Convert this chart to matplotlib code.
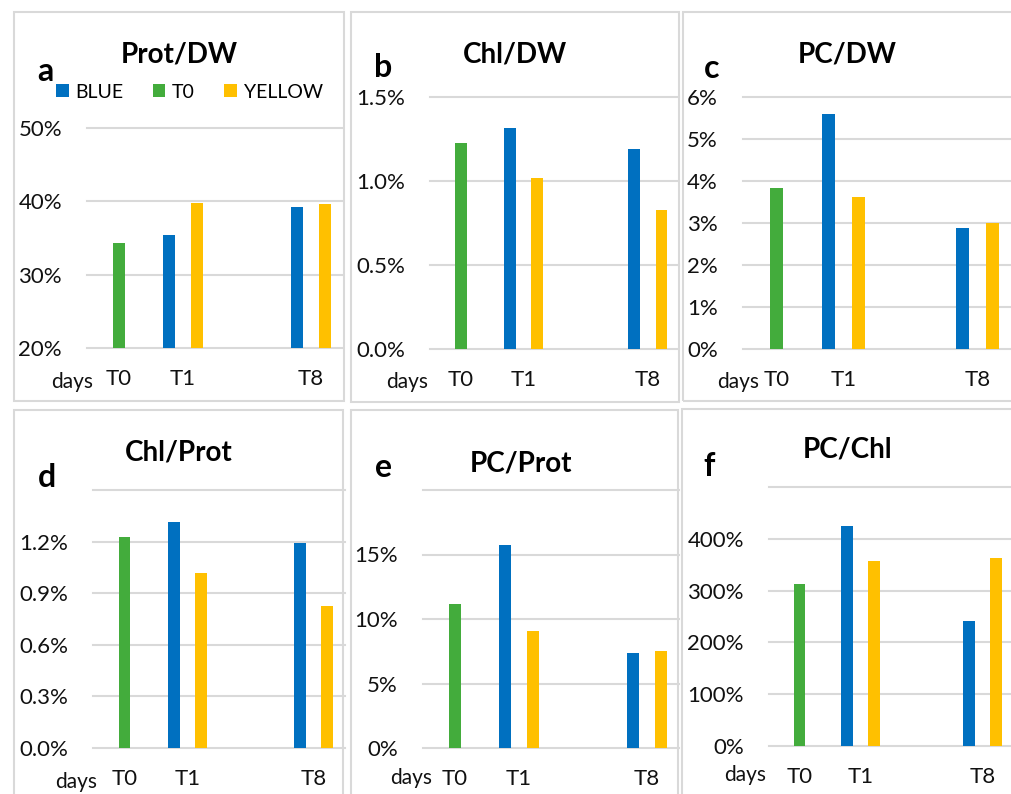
import matplotlib
matplotlib.use("Agg")
import matplotlib.pyplot as plt
import numpy as np
from matplotlib.patches import Rectangle

plt.rcParams['font.family'] = ['Lato', 'DejaVu Sans']

W, H = 1011, 794

# data (percent)
cats = ["T0", "T1", "T8"]
cat_pos = [0, 1, 3]
series = ["BLUE", "T0", "YELLOW"]
colors = ["#0070C0", "#43AC3C", "#FFC000"]

titles = ["Prot/DW", "Chl/DW", "PC/DW", "Chl/Prot", "PC/Prot", "PC/Chl"]
letters = ["a", "b", "c", "d", "e", "f"]

blue = [
    [np.nan, 35.4, 39.2],
    [np.nan, 1.313, 1.19],
    [np.nan, 5.59, 2.89],
    [np.nan, 1.312, 1.19],
    [np.nan, 15.72, 7.35],
    [np.nan, 424, 242],
]
t0 = [
    [34.3, np.nan, np.nan],
    [1.224, np.nan, np.nan],
    [3.83, np.nan, np.nan],
    [1.227, np.nan, np.nan],
    [11.16, np.nan, np.nan],
    [312, np.nan, np.nan],
]
yellow = [
    [np.nan, 39.8, 39.7],
    [np.nan, 1.016, 0.827],
    [np.nan, 3.63, 2.99],
    [np.nan, 1.016, 0.826],
    [np.nan, 9.1, 7.53],
    [np.nan, 357, 362],
]

yticks = [
    [20, 30, 40, 50],
    [0, 0.5, 1.0, 1.5],
    [0, 1, 2, 3, 4, 5, 6],
    [0, 0.3, 0.6, 0.9, 1.2, 1.5],
    [0, 5, 10, 15, 20],
    [0, 100, 200, 300, 400, 500],
]
ylabels = [
    ["20%", "30%", "40%", "50%"],
    ["0.0%", "0.5%", "1.0%", "1.5%"],
    ["0%", "1%", "2%", "3%", "4%", "5%", "6%"],
    ["0.0%", "0.3%", "0.6%", "0.9%", "1.2%", ""],
    ["0%", "5%", "10%", "15%", ""],
    ["0%", "100%", "200%", "300%", "400%", ""],
]

# layout in pixels: (left, right, top, bottom) of plot area
areas = [
    (87, 343, 128, 348),
    (430, 679, 97, 349),
    (743, 1011, 97, 349),
    (93, 345, 490, 748),
    (423, 679, 490, 748),
    (769, 1013, 487, 746),
]
frames = [(14, 12, 344, 401), (351, 12, 679, 402), (683, 12, 1020, 401),
          (14, 410, 343, 800), (351, 410, 678, 800), (682, 409, 1020, 800)]
title_xy = [(179, 62), (515, 62), (847, 62), (179, 460), (521, 472), (848, 458)]
letter_xy = [(45, 81), (383, 77), (712, 78), (47, 487), (383, 477), (709, 476)]
days_xy = [(72, 382), (407, 382), (738, 382), (76, 782), (411, 778), (745, 775)]

fig = plt.figure(figsize=(W / 100, H / 100), dpi=100)

for (l, t, r, b) in frames:
    fig.patches.append(Rectangle((l / W, 1 - b / H), (r - l) / W, (b - t) / H,
                                 transform=fig.transFigure, fill=False,
                                 edgecolor="#d9d9d9", linewidth=1.5))

grid_c = "#d9d9d9"
offs = [-0.22, 0, 0.22]
bw = 0.19

for i in range(6):
    l, r, t, b = areas[i]
    ax = fig.add_axes([l / W, 1 - b / H, (r - l) / W, (b - t) / H])
    x = np.array(cat_pos, dtype=float)
    vals = [blue[i], t0[i], yellow[i]]
    bars = []
    for k in range(3):
        bars.append(ax.bar(x + offs[k], vals[k], width=bw, color=colors[k],
                           label=series[k], zorder=3))
    ax.set_xlim(-0.5, 3.5)
    ax.set_ylim(yticks[i][0], yticks[i][-1])
    ax.set_yticks(yticks[i])
    ax.set_yticklabels(ylabels[i])
    ax.set_xticks(cat_pos)
    ax.set_xticklabels(cats)
    ax.tick_params(axis='y', length=0, pad=18, labelsize=16, colors="#111111")
    ax.tick_params(axis='x', length=0, pad=15, labelsize=16, colors="#111111")
    ax.grid(axis='y', color=grid_c, linewidth=1.5)
    ax.set_axisbelow(True)
    for gl in ax.get_ygridlines():
        gl.set_clip_on(False)
    for s in ax.spines.values():
        s.set_visible(False)

    fig.text(title_xy[i][0] / W, 1 - title_xy[i][1] / H, titles[i],
             ha='center', va='baseline', fontsize=20, fontweight='bold')
    fig.text(letter_xy[i][0] / W, 1 - letter_xy[i][1] / H, letters[i],
             ha='center', va='baseline', fontsize=23, fontweight='bold')
    fig.text(days_xy[i][0] / W, 1 - days_xy[i][1] / H, "days",
             ha='center', va='center', fontsize=15, color="#111111")

    if i == 0:
        ax.legend(handles=bars, loc='center left',
                  bbox_to_anchor=(56 / W, 1 - 92 / H),
                  bbox_transform=fig.transFigure, ncol=3, frameon=False,
                  fontsize=14, handlelength=0.65, handleheight=0.65,
                  handletextpad=0.35, columnspacing=1.5, borderpad=0,
                  borderaxespad=0)

fig.savefig("out.png", dpi=100)
